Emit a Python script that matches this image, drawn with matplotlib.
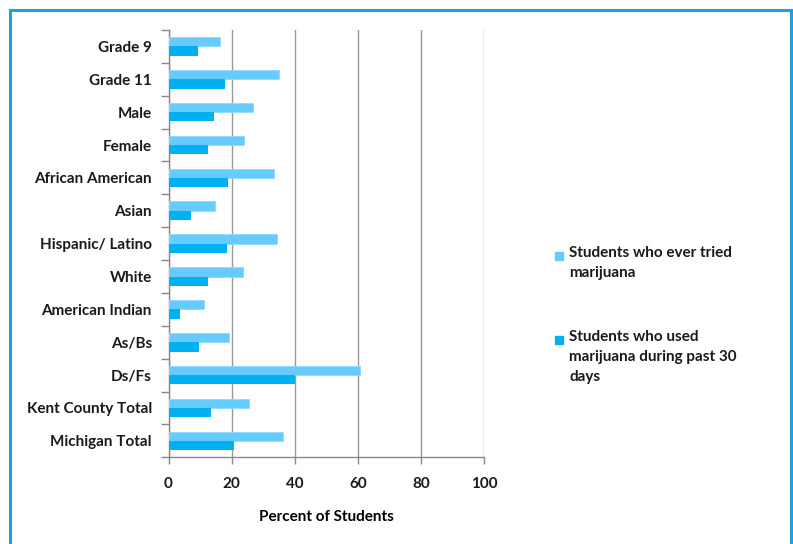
import numpy as np
import matplotlib.pyplot as plt
from matplotlib.patches import Rectangle
from matplotlib.lines import Line2D

# --- Data ---
categories = ["Grade 9", "Grade 11", "Male", "Female", "African American",
              "Asian", "Hispanic/ Latino", "White", "American Indian",
              "As/Bs", "Ds/Fs", "Kent County Total", "Michigan Total"]
ever_tried = [16.4, 35.0, 26.7, 23.8, 33.4, 14.8, 34.4, 23.5, 11.3,
              19.3, 60.7, 25.4, 36.3]
past_30 = [9.4, 18.0, 14.4, 12.5, 19.0, 7.1, 18.6, 12.6, 3.6,
           9.7, 40.1, 13.6, 20.7]
series_labels = ["Students who ever tried\nmarijuana",
                 "Students who used\nmarijuana during past 30\ndays"]
series_colors = ["#66CCFF", "#00B0F0"]
xticks = [0, 20, 40, 60, 80, 100]

plt.rcParams["font.family"] = ["Lato", "DejaVu Sans"]
plt.rcParams["font.weight"] = "bold"
plt.rcParams["text.color"] = "#1a1a1a"
plt.rcParams["xtick.labelcolor"] = "#1a1a1a"
plt.rcParams["ytick.labelcolor"] = "#1a1a1a"
fs = 11

W, H = 793, 544
fig = plt.figure(figsize=(W / 100, H / 100), dpi=100)
ax = fig.add_axes([168.5 / W, 1 - 457.3 / H, (484 - 168.5) / W, (457.3 - 30) / H])

y = np.arange(len(categories))
bh = 0.283
ax.barh(y - bh / 2, ever_tried, height=bh, color=series_colors[0],
        edgecolor="#8FDBFF", linewidth=0.6, zorder=3)
ax.barh(y + bh / 2, past_30, height=bh, color=series_colors[1], zorder=3)

ax.set_xlim(0, 100)
ax.set_ylim(len(categories) - 0.5, -0.5)
ax.set_xticks(xticks)
ax.set_xticklabels([str(v) for v in xticks], fontsize=fs, fontweight="bold")
ax.set_yticks(y)
ax.set_yticklabels(categories, fontsize=fs, fontweight="bold")
ax.set_yticks(np.arange(len(categories) + 1) - 0.5, minor=True)
ax.tick_params(axis="y", which="major", length=0, pad=12)
ax.tick_params(axis="y", which="minor", length=6, color="#888888", width=1)
ax.tick_params(axis="x", length=5, color="#888888", width=1, pad=9)

ax.grid(axis="x", color="#999999", linewidth=1, zorder=0)
for s in ["top", "right"]:
    ax.spines[s].set_visible(False)
for s in ["left", "bottom"]:
    ax.spines[s].set_color("#888888")
    ax.spines[s].set_linewidth(1)

ax.set_xlabel("Percent of Students", fontsize=fs, fontweight="bold", labelpad=14)

# --- Legend drawn by hand so the marker sits at the first text line ---
leg_top = [246, 330]
for lab, col, top in zip(series_labels, series_colors, leg_top):
    fig.add_artist(Rectangle((555 / W, 1 - (top + 14) / H), 8 / W, 8 / H,
                             transform=fig.transFigure, color=col))
    fig.text(569 / W, 1 - top / H, lab, fontsize=fs, fontweight="bold",
             va="top", ha="left", linespacing=1.55)

# --- Blue outer frame (open at the bottom) ---
frame_col = "#1BA1E2"
fig.add_artist(Line2D([10 / W, 10 / W], [0, 1 - 10 / H], color=frame_col, lw=2.2,
                      transform=fig.transFigure))
fig.add_artist(Line2D([10 / W, 791 / W], [1 - 10 / H, 1 - 10 / H], color=frame_col,
                      lw=2.2, transform=fig.transFigure))
fig.add_artist(Line2D([791 / W, 791 / W], [0, 1 - 10 / H], color=frame_col, lw=2.2,
                      transform=fig.transFigure))

fig.savefig("out.png", dpi=100)
